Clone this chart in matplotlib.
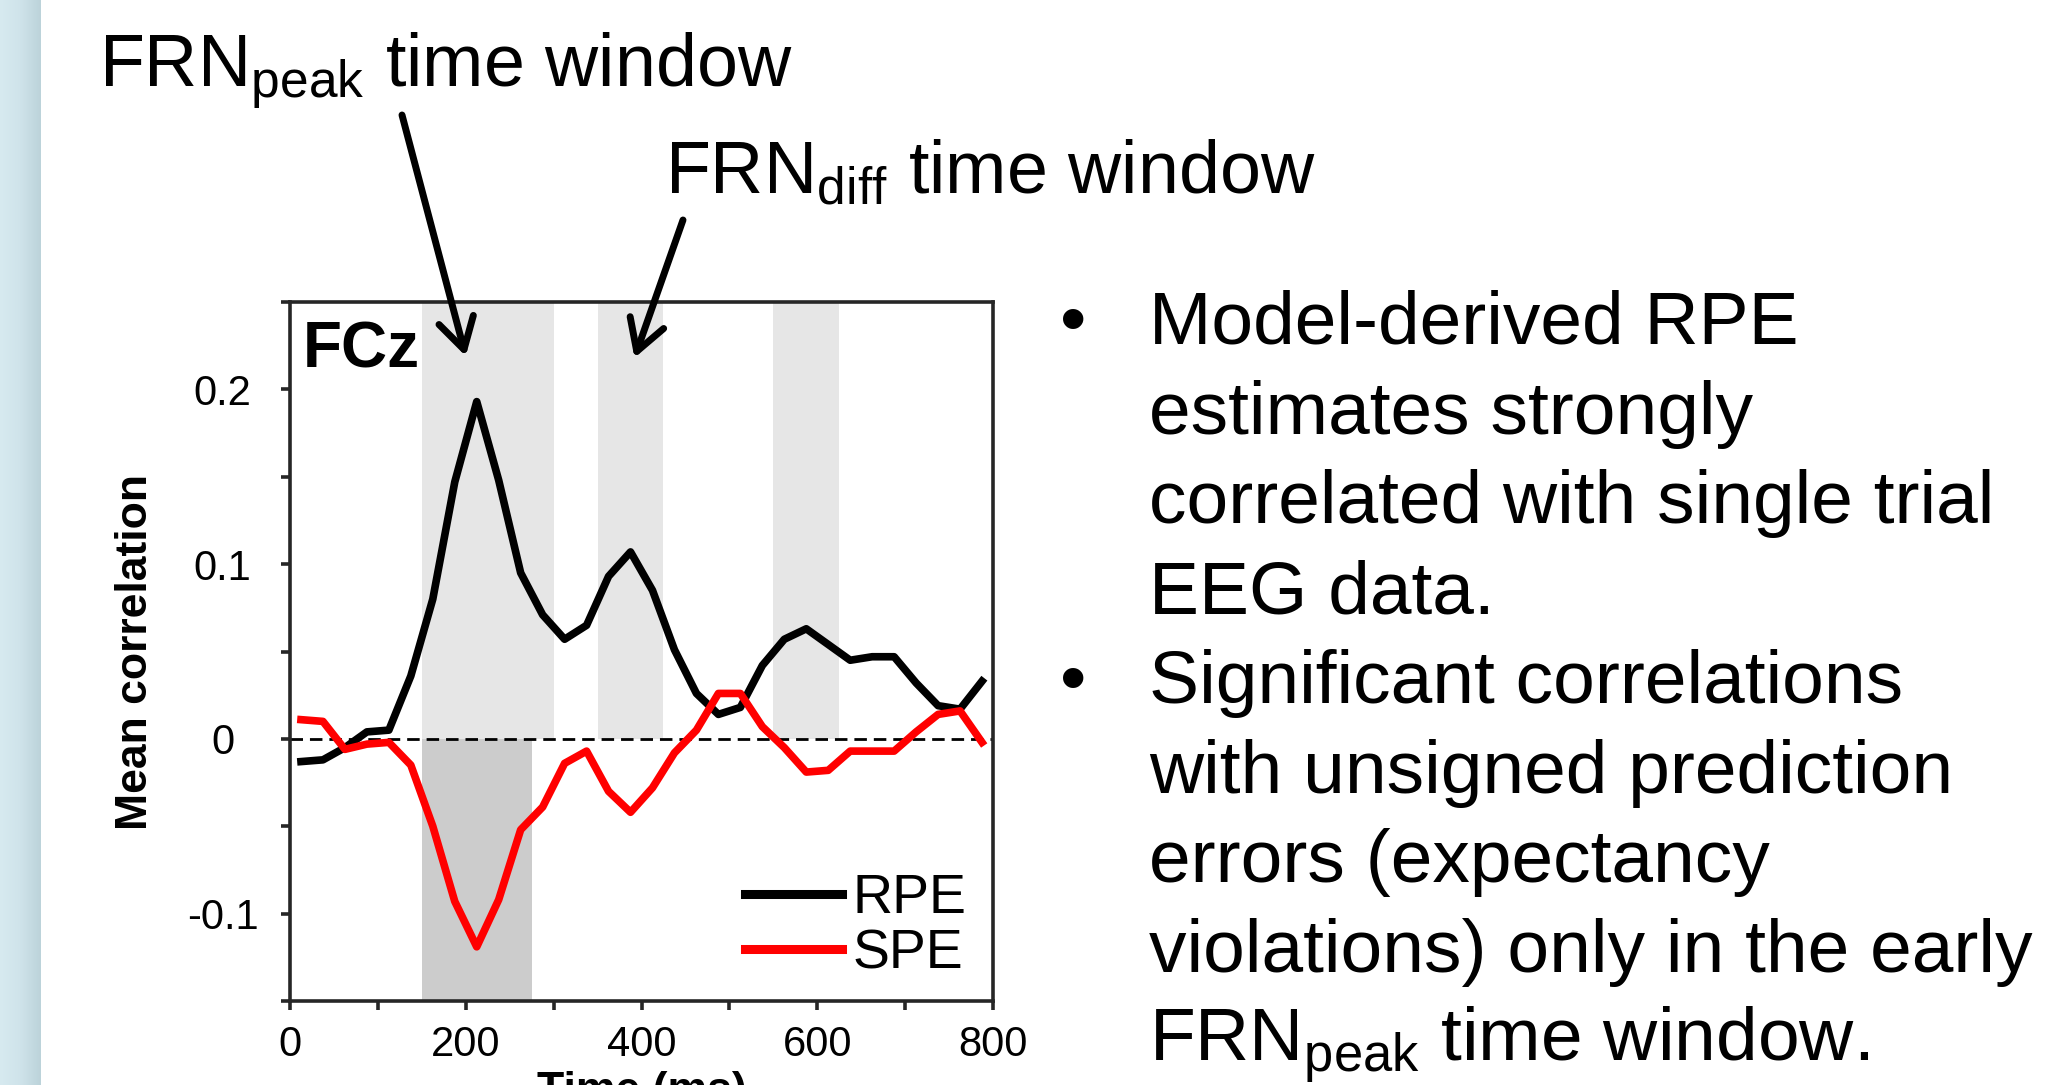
"""Mean single-trial correlation of RPE / SPE with FCz EEG, with slide text."""
import matplotlib.pyplot as plt
import numpy as np
from matplotlib.colors import LinearSegmentedColormap

plt.rcParams['font.family'] = ['Liberation Sans', 'DejaVu Sans']
plt.rcParams['mathtext.fontset'] = 'custom'
plt.rcParams['mathtext.rm'] = 'Liberation Sans'
plt.rcParams['mathtext.it'] = 'Liberation Sans:italic'
plt.rcParams['mathtext.bf'] = 'Liberation Sans:bold'

# values
time_ms = [12.5, 37.5, 62.5, 87.5, 112.5, 137.5, 162.5, 187.5, 212.5, 237.5,
           262.5, 287.5, 312.5, 337.5, 362.5, 387.5, 412.5, 437.5, 462.5, 487.5,
           512.5, 537.5, 562.5, 587.5, 612.5, 637.5, 662.5, 687.5, 712.5, 737.5,
           762.5, 787.5]
rpe_corr = [-0.013, -0.012, -0.005, 0.004, 0.005, 0.036, 0.080, 0.147, 0.193, 0.148,
            0.095, 0.071, 0.057, 0.065, 0.093, 0.107, 0.085, 0.051, 0.026, 0.014,
            0.018, 0.042, 0.057, 0.063, 0.054, 0.045, 0.047, 0.047, 0.032, 0.019,
            0.017, 0.033]
spe_corr = [0.011, 0.010, -0.006, -0.003, -0.002, -0.015, -0.050, -0.093, -0.119, -0.092,
            -0.052, -0.039, -0.014, -0.007, -0.030, -0.042, -0.028, -0.008, 0.005, 0.026,
            0.026, 0.007, -0.005, -0.019, -0.018, -0.007, -0.007, -0.007, 0.004, 0.014,
            0.016, -0.002]

rpe_windows = [(150, 300), (350, 425), (550, 625)]   # shaded above zero
spe_windows = [(150, 275)]                           # shaded below zero

xticks = [0, 100, 200, 300, 400, 500, 600, 700, 800]
xtick_labels = ['0', '', '200', '', '400', '', '600', '', '800']
yticks = [-0.15, -0.1, -0.05, 0, 0.05, 0.1, 0.15, 0.2, 0.25]
ytick_labels = ['', '-0.1', '', '0', '', '0.1', '', '0.2', '']

bullet_lines = [
    (True, 'Model-derived RPE'),
    (False, 'estimates strongly'),
    (False, 'correlated with single trial'),
    (False, 'EEG data.'),
    (True, 'Significant correlations'),
    (False, 'with unsigned prediction'),
    (False, 'errors (expectancy'),
    (False, 'violations) only in the early'),
    (False, r'$\mathrm{FRN}_{\mathrm{peak}}$ time window.'),
]

W, H = 2057, 1085
SPINE = '#262626'


def add_side_strip(fig):
    strip = fig.add_axes([0, 0, 41 / W, 1])
    cmap = LinearSegmentedColormap.from_list('strip', ['#d7eaf0', '#cfe3ea', '#bcd3da'])
    strip.imshow(np.linspace(0, 1, 64).reshape(1, -1), cmap=cmap, aspect='auto')
    strip.axis('off')


def plot_correlations(fig):
    ax = fig.add_axes([290 / W, 1 - 1001 / H, 703 / W, 699 / H])
    ax.set_xlim(0, 800)
    ax.set_ylim(-0.15, 0.25)

    for a, b in rpe_windows:
        ax.fill_between([a, b], 0, 0.25, color='#e6e6e6', lw=0, zorder=0)
    for a, b in spe_windows:
        ax.fill_between([a, b], -0.15, 0, color='#cccccc', lw=0, zorder=0)

    ax.axhline(0, color='black', lw=2, ls=(0, (4.5, 2.5)), zorder=1)
    ax.plot(time_ms, rpe_corr, color='black', lw=5.5, label='RPE', zorder=3)
    ax.plot(time_ms, spe_corr, color='#ff0000', lw=5.5, label='SPE', zorder=3)

    for s in ax.spines.values():
        s.set_linewidth(2.6)
        s.set_color(SPINE)
    ax.set_xticks(xticks, xtick_labels)
    ax.set_yticks(yticks, ytick_labels)
    ax.tick_params(direction='out', length=6.5, width=2.6, color=SPINE, labelsize=30)
    ax.tick_params(axis='x', pad=11)
    ax.tick_params(axis='y', pad=42)
    for lab in ax.get_yticklabels():
        lab.set_horizontalalignment('center')

    ax.set_ylabel('Mean correlation', fontsize=32, fontweight='bold')
    ax.yaxis.set_label_coords(-0.19, 0.5)
    ax.set_xlabel('Time (ms)', fontsize=32, fontweight='bold')
    ax.xaxis.set_label_coords(0.5, -0.1)

    ax.text(0.0185, 0.907, 'FCz', transform=ax.transAxes, fontsize=46,
            fontweight='bold', va='baseline', ha='left')

    leg = ax.legend(loc='lower right', bbox_to_anchor=(0.962, 0.03), frameon=False,
                    fontsize=40, handlelength=1.75, handletextpad=0.18,
                    labelspacing=0.05, borderpad=0, borderaxespad=0)
    for line in leg.get_lines():
        line.set_linewidth(6.5)

    # arrows from the window labels down into the plot
    arrow = dict(arrowstyle='->,head_length=0.55,head_width=0.32', lw=5,
                 color='black', mutation_scale=40, shrinkA=0, shrinkB=0)
    ax.annotate('', xy=(200, 0.219), xycoords='data',
                xytext=(402 / W, 1 - 115 / H), textcoords='figure fraction',
                arrowprops=arrow, annotation_clip=False)
    ax.annotate('', xy=(392, 0.218), xycoords='data',
                xytext=(683 / W, 1 - 220 / H), textcoords='figure fraction',
                arrowprops=arrow, annotation_clip=False)
    return ax


def add_slide_text(fig):
    fig.text(99 / W, 1 - 87 / H, r'$\mathrm{FRN}_{\mathrm{peak}}$ time window',
             fontsize=53, va='baseline', ha='left')
    fig.text(665 / W, 1 - 193 / H, r'$\mathrm{FRN}_{\mathrm{diff}}$ time window',
             fontsize=53, va='baseline', ha='left')

    first_baseline = 344
    step = 89.7
    for i, (bullet, line) in enumerate(bullet_lines):
        y = 1 - (first_baseline + i * step) / H
        if bullet:
            fig.text(1073 / W, y, '\u2022', fontsize=54, va='baseline', ha='center')
        fig.text(1149 / W, y, line, fontsize=54, va='baseline', ha='left')


def main():
    fig = plt.figure(figsize=(W / 100, H / 100), dpi=100)
    add_side_strip(fig)
    plot_correlations(fig)
    add_slide_text(fig)
    fig.savefig('out.png', dpi=100)
    plt.close(fig)


if __name__ == '__main__':
    main()
